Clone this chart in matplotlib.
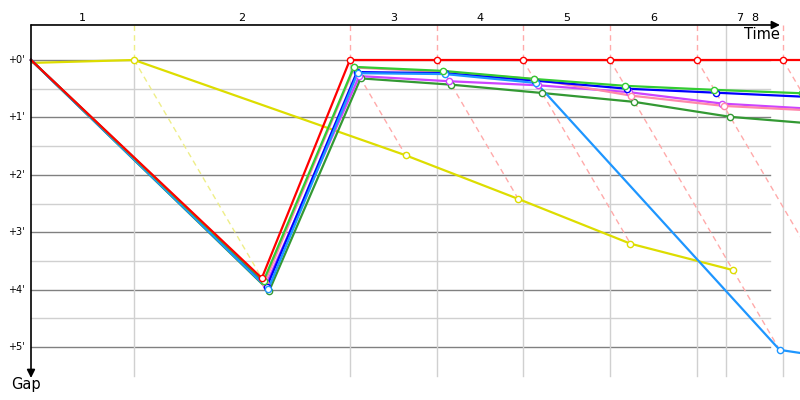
import numpy as np
import matplotlib
matplotlib.use("Agg")
import matplotlib.pyplot as plt

# leader crossing times (minutes since start) for each lap index, 0 = start
lap_times = [0.0, 3.07, 9.49, 12.08, 14.64, 17.23, 19.82, 22.38, 24.96]
leader_color = ["#eeee88", "#ffaaaa", "#ffaaaa", "#ffaaaa", "#ffaaaa", "#ffaaaa", "#ffaaaa", "#ffaaaa"]
extra_grid_t = 20.68
lap_labels = ["1", "2", "3", "4", "5", "6", "7", "8"]
gap_ticks = [0, 1, 2, 3, 4, 5]

# gap to the leader (minutes) at each crossing
yellow = [0.05, 0.0, 1.66, 2.42, 3.20, 3.66]
dkgreen = [0.0, 4.02, 0.32, 0.43, 0.575, 0.73, 0.99, 1.12]
violet = [0.0, 3.92, 0.28, 0.37, 0.44, 0.56, 0.76, 0.85]
pink = [0.0, 3.88, 0.13, 0.21, 0.33, 0.62, 0.80, 0.88]
blue = [0.0, 3.95, 0.21, 0.23, 0.36, 0.50, 0.57, 0.64]
ltblue = [0.0, 3.99, 0.23, 0.245, 0.40, 5.05, 5.30]
green = [0.0, 3.85, 0.12, 0.19, 0.33, 0.45, 0.52, 0.58]
red = [0.0, 3.80, 0.0, 0.0, 0.0, 0.0, 0.0, 0.0, 0.0]

series = [
    (yellow, "#dddd00"),
    (dkgreen, "#339933"),
    (violet, "#cc44ff"),
    (pink, "#ff88aa"),
    (blue, "#0000ff"),
    (ltblue, "#1e96ff"),
    (green, "#33cc33"),
    (red, "#ff0000"),
]

fig = plt.figure(figsize=(8, 4), dpi=100)
ax = fig.add_axes([0, 0, 1, 1])
ax.set_xlim(-31 / 33.6, 769 / 33.6)
ax.set_ylim(340 / 57.4, -60 / 57.4)
ax.axis("off")

top = -0.61
grid_end = 22.0

# horizontal grid
for g in np.arange(0.5, 5.0, 1.0):
    ax.plot([0, grid_end], [g, g], color="#d0d0d0", lw=1, zorder=1)
for g in gap_ticks:
    ax.plot([0, grid_end], [g, g], color="#808080", lw=1, zorder=1)
    ax.text(-0.69, g, "+%d'" % g, fontsize=7, ha="left", va="center")

# vertical lap lines
ax.plot([extra_grid_t, extra_grid_t], [top, 5.5], color="#d0d0d0", lw=1, zorder=1)
for i in range(1, len(lap_times) - 1):
    t = lap_times[i]
    ax.plot([t, t], [0, 5.5], color="#d0d0d0", lw=1, zorder=1)
    ax.plot([t, t], [top, 0], color=leader_color[i - 1], lw=1, ls=(0, (4, 3)), zorder=1)
    gmax = max(s[i] for s, c in series if len(s) > i)
    ax.plot([t, t + gmax], [0, gmax], color=leader_color[i - 1], lw=1,
            ls=(0, (4, 3)), zorder=2)

# lap numbers
lap_start = lap_times[:7] + [extra_grid_t]
lap_end = lap_times[1:8] + [lap_times[7]]
for lab, a, b in zip(lap_labels, lap_start, lap_end):
    ax.text((a + b) / 2, -0.73, lab, fontsize=8, ha="center", va="center")

# drivers
for gaps, col in series:
    n = len(gaps)
    x = np.array(lap_times[:n]) + np.array(gaps)
    ax.plot(x, gaps, color=col, lw=1.6, zorder=3, solid_joinstyle="miter")
    ax.plot(x[1:], gaps[1:], ls="none", marker="o", ms=4.5, mfc="white",
            mec=col, mew=1, zorder=4)

# axes arrows
ax.annotate("", xy=(22.29, top), xytext=(0, top),
            arrowprops=dict(arrowstyle="-|>", color="black", lw=1.2,
                            mutation_scale=12, shrinkA=0, shrinkB=0))
ax.annotate("", xy=(0, 5.54), xytext=(0, top),
            arrowprops=dict(arrowstyle="-|>", color="black", lw=1.2,
                            mutation_scale=12, shrinkA=0, shrinkB=0))
ax.text(22.28, -0.44, "Time", fontsize=10.5, ha="right", va="center")
ax.text(-0.6, 5.66, "Gap", fontsize=10.5, ha="left", va="center")

fig.savefig("out.png", dpi=100)
